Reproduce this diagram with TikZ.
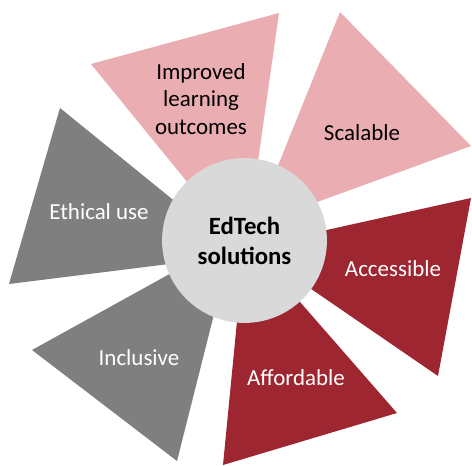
\documentclass[tikz,border=0pt]{standalone}
\usepackage{fontspec}
\setmainfont{Carlito}
\definecolor{petalpink}{RGB}{234,173,177}
\definecolor{petalred}{RGB}{158,38,49}
\definecolor{petalgray}{RGB}{127,127,127}
\definecolor{hubgray}{RGB}{217,217,217}
\tikzset{
  lbl/.style={align=center,font=\fontsize{17.3}{20.7}\selectfont},
  hub/.style={circle,fill=hubgray,minimum size=4.37cm,inner sep=0pt,
    align=center,font=\fontsize{18.7}{22.6}\selectfont\bfseries},
}
\begin{document}
\begin{tikzpicture}[xscale=0.0265,yscale=-0.0265]
  \useasboundingbox (0,0) rectangle (472,466);
  % petals: two outer corners, then the tip under the hub
  \fill[petalpink] (91,64) -- (279,13) -- (245,253) -- cycle;
  \fill[petalpink] (340,12) -- (471,146) -- (254,225) -- cycle;
  \fill[petalred] (471,198) -- (438,376) -- (250,247) -- cycle;
  \fill[petalred] (397,413) -- (223,465) -- (245,239) -- cycle;
  \fill[petalgray] (32,350) -- (177,461) -- (233,239) -- cycle;
  \fill[petalgray] (60,108) -- (9,284) -- (241,255) -- cycle;
  \node[hub] (edtech) at (244.5,240.5) {EdTech\\solutions};
  \node[lbl] (improved) at (201,99) {Improved\\learning\\outcomes};
  \node[lbl] (scalable) at (362,133) {Scalable};
  \node[lbl,white] (accessible) at (393,269) {Accessible};
  \node[lbl,white] (affordable) at (296,378) {Affordable};
  \node[lbl,white] (inclusive) at (139,358) {Inclusive};
  \node[lbl,white] (ethical) at (99,212) {Ethical use};
\end{tikzpicture}
\end{document}
